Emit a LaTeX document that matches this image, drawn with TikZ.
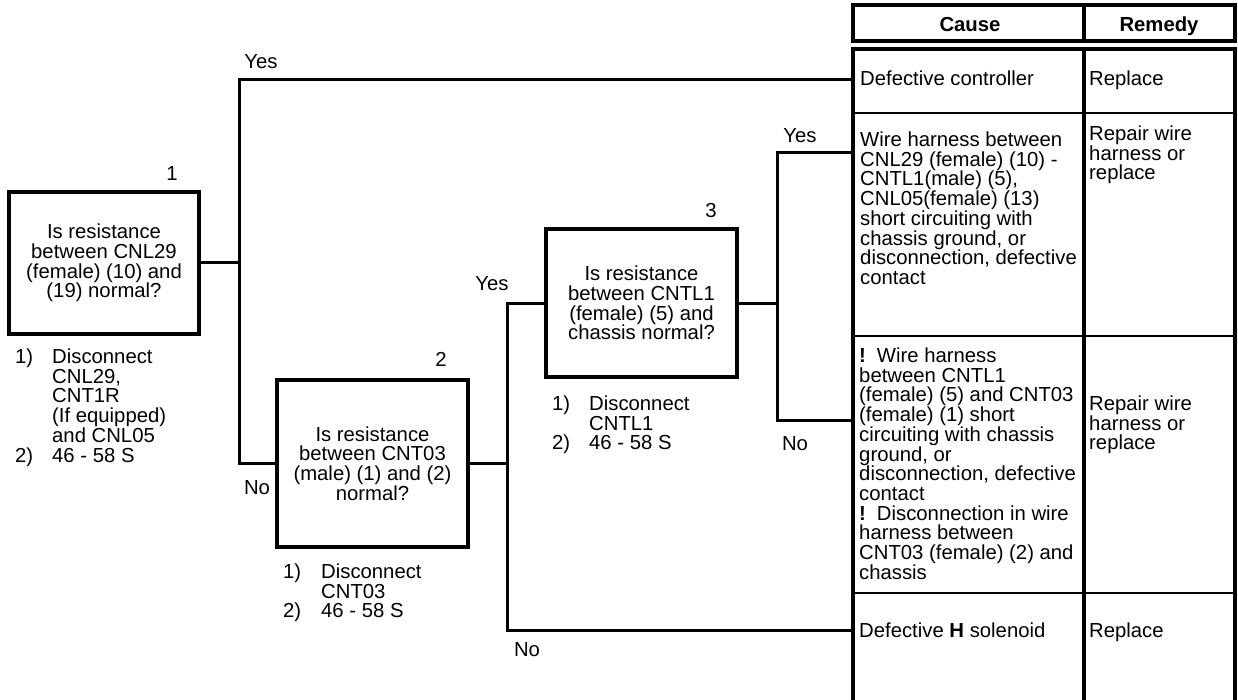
\documentclass[tikz,border=0pt]{standalone}
\usepackage{fontspec}
\setmainfont{Liberation Sans}
\begin{document}
\begin{tikzpicture}[x=1pt,y=-1pt,
  every node/.style={font=\fontsize{20.3pt}{19.7pt}\selectfont, inner sep=0pt},
  qbox/.style={draw, line width=3.4pt, align=center},
  conn/.style={line width=3pt},
  lbl/.style={anchor=base},
  txt/.style={anchor=north west, align=left},
  tthick/.style={line width=3.8pt},
  tthin/.style={line width=1.6pt}]
\useasboundingbox (0,0) rectangle (1238,700);

% question boxes
\node[qbox, minimum width=190pt, minimum height=142pt] (q1) at (104,263)
  {Is resistance\\between CNL29\\(female) (10) and\\(19) normal?};
\node[qbox, minimum width=191pt, minimum height=167pt] (q2) at (372.5,463.5)
  {Is resistance\\between CNT03\\(male) (1) and (2)\\normal?};
\node[qbox, minimum width=191pt, minimum height=148pt] (q3) at (641.5,303)
  {Is resistance\\between CNTL1\\(female) (5) and\\chassis normal?};

% step numbers
\node[lbl] (k1) at (172,180.3) {1};
\node[lbl] (k2) at (441,366.3) {2};
\node[lbl] (k3) at (711,217.3) {3};

% notes under boxes
\node[txt] (n1) at (15,348.6) {\makebox[37pt][l]{1)}Disconnect\\\hspace*{37pt}CNL29,\\\hspace*{37pt}CNT1R\\\hspace*{37pt}(If equipped)\\\hspace*{37pt}and CNL05\\\makebox[37pt][l]{2)}46 - 58 S};
\node[txt] (n2) at (283,563.6) {\makebox[38pt][l]{1)}Disconnect\\\hspace*{38pt}CNT03\\\makebox[38pt][l]{2)}46 - 58 S};
\node[txt] (n3) at (552,395.6) {\makebox[37pt][l]{1)}Disconnect\\\hspace*{37pt}CNTL1\\\makebox[37pt][l]{2)}46 - 58 S};

% table
\draw[tthick] (853,5) rectangle (1235,41);
\draw[tthick] (1084,5) -- (1084,41);
\draw[tthick] (853,700) -- (853,49) -- (1235,49) -- (1235,700);
\draw[tthick] (1084,49) -- (1084,700);
\draw[tthin] (853,113) -- (1235,113);
\draw[tthin] (853,336) -- (1235,336);
\draw[tthin] (853,593) -- (1235,593);

\node[lbl] (hc) at (970,31.3) {\textbf{Cause}};
\node[lbl] (hr) at (1159,31.3) {\textbf{Remedy}};

\node[txt] (c1) at (860,70.6) {Defective controller};
\node[txt] (m1) at (1089,70.6) {Replace};
\node[txt] (c2) at (860,131.6) {Wire harness between\\CNL29 (female) (10) -\\CNTL1(male) (5),\\CNL05(female) (13)\\short circuiting with\\chassis ground, or\\disconnection, defective\\contact};
\node[txt] (m2) at (1089,125.6) {Repair wire\\harness or\\replace};
\node[txt] (c3) at (859,347.6) {\textbf{!}\hspace{11pt}Wire harness\\between CNTL1\\(female) (5) and CNT03\\(female) (1) short\\circuiting with chassis\\ground, or\\disconnection, defective\\contact\\\textbf{!}\hspace{11pt}Disconnection in wire\\harness between\\CNT03 (female) (2) and\\chassis};
\node[txt] (m3) at (1089,395.6) {Repair wire\\harness or\\replace};
\node[txt] (c4) at (859,622.6) {Defective \textbf{H} solenoid};
\node[txt] (m4) at (1089,622.6) {Replace};

% connection points
\coordinate (r1) at (853,80);
\coordinate (r2) at (853,153);
\coordinate (r3) at (853,420);
\coordinate (r4) at (853,630);
\coordinate (j1) at (239,263);
\coordinate (j2) at (507,463.5);
\coordinate (j3) at (777,303);

% connectors
\draw[conn] (q1.east) -- (j1);
\draw[conn] (r1) -| (j1) |- (q2.west);
\draw[conn] (q2.east) -- (j2);
\draw[conn] (q3.west) -| (j2) |- (r4);
\draw[conn] (q3.east) -- (j3);
\draw[conn] (r2) -| (j3) |- (r3);

% branch labels
\node[lbl] (y1) at (261,68.3) {Yes};
\node[lbl] (no1) at (257,494.3) {No};
\node[lbl] (y2) at (492,290.3) {Yes};
\node[lbl] (y3) at (800,142.3) {Yes};
\node[lbl] (no2) at (795,450.3) {No};
\node[lbl] (no3) at (527,656.3) {No};
\end{tikzpicture}
\end{document}
